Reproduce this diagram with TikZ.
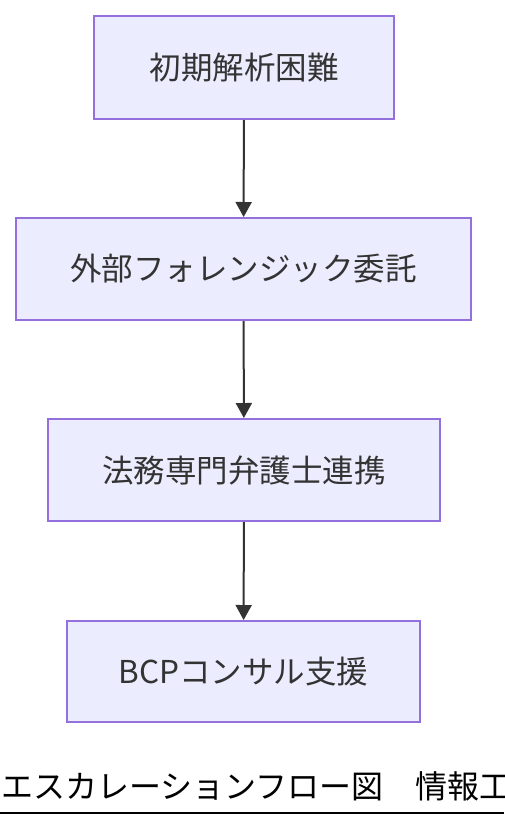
\documentclass[tikz,border=0pt]{standalone}
\usepackage{fontspec}
\setmainfont{Noto Sans CJK JP}
\usetikzlibrary{arrows.meta}
\definecolor{boxfill}{HTML}{ECECFF}
\definecolor{boxline}{HTML}{9370DB}
\definecolor{textgray}{HTML}{333333}
\tikzset{
  stepbox/.style={rectangle, draw=boxline, fill=boxfill, line width=2pt, inner sep=0pt,
    text=textgray, font=\fontsize{31.5}{36}\selectfont},
  flow/.style={draw=textgray, line width=2pt, -{Triangle[length=15pt, width=16pt]}}
}
\begin{document}
\begin{tikzpicture}[x=1pt, y=-1pt]
\clip (0, 0) rectangle (504, 828);
\fill[white] (0, 0) rectangle (504, 828);
\path (244, 67.5) node[stepbox, minimum width=300pt, minimum height=103pt] (difficult) {初期解析困難};
\path (243.5, 269) node[stepbox, minimum width=455pt, minimum height=102pt] (forensic) {外部フォレンジック委託};
\path (244, 470) node[stepbox, minimum width=392pt, minimum height=102pt] (lawyer) {法務専門弁護士連携};
\path (243.5, 671.5) node[stepbox, minimum width=353pt, minimum height=101pt] (bcp) {BCPコンサル支援};
\draw[flow] (difficult) -- (forensic);
\draw[flow] (forensic) -- (lawyer);
\draw[flow] (lawyer) -- (bcp);
\path (1, 798) node[anchor=base west, inner sep=0pt, font=\fontsize{32}{36}\selectfont] (caption) {エスカレーションフロー図　情報工};
\draw[line width=2pt] (0, 813) -- (504, 813);
\end{tikzpicture}
\end{document}
